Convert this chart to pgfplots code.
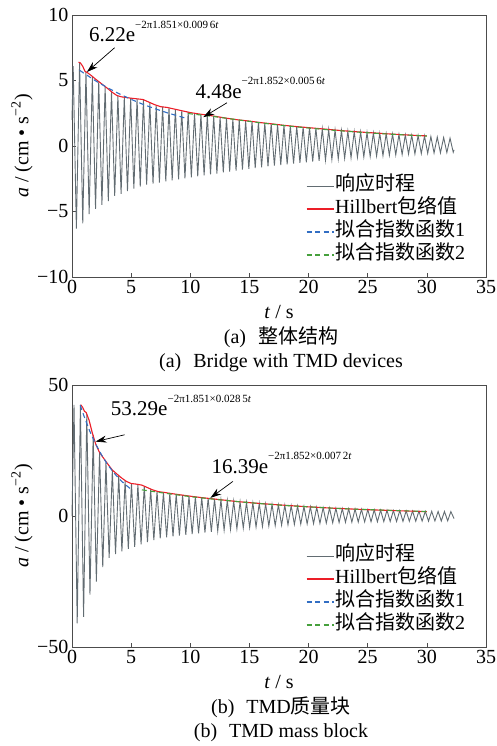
\documentclass[border=0pt]{standalone}
\usepackage{pgfplots}
\pgfplotsset{compat=1.18}
\usepackage{fontspec}
\setmainfont{Liberation Serif}
\newfontfamily\cjk{Noto Sans CJK SC}
\usetikzlibrary{arrows.meta}
\definecolor{resp}{RGB}{98,108,114}
\definecolor{hred}{RGB}{236,30,40}
\definecolor{fblue}{RGB}{50,110,195}
\definecolor{fgreen}{RGB}{70,160,60}
\tikzset{myarrow/.style={-{Stealth[length=11pt,width=7pt]}, line width=0.7pt}}
\pgfplotsset{
  myax/.style={
    scale only axis, width=414pt, height=262pt, anchor=south west,
    xmin=0, xmax=35,
    xtick={0,5,...,35}, xticklabels={0,5,10,15,20,25,30,35},
    tick align=inside, xtick pos=bottom, ytick pos=left,
    major tick length=4pt,
    axis line style={draw=black!70, line width=0.6pt},
    tick style={draw=black!70, line width=0.6pt},
    xlabel={\textit{t} / s},
    ylabel={\textit{a} / (cm • s\textsuperscript{−2})},
    xlabel style={at={(rel axis cs:0.5,0)}, anchor=center, yshift=-35pt},
    ylabel style={at={(rel axis cs:0,0.5)}, anchor=center, yshift=50pt},
    legend cell align=left,
    legend style={draw=none, fill=none, at={(0.565,0.392)}, anchor=north west,
      inner sep=0pt, row sep=0pt,
      nodes={inner sep=1pt, text height=15pt, text depth=6pt}},
    legend image code/.code={\draw[##1] (0pt,0pt) -- (27pt,0pt);},
    clip=false,
  },
}
\newcommand{\expsup}[1]{\raisebox{13.5pt}{\fontsize{11}{12}\selectfont #1}}
\begin{document}
\begin{tikzpicture}[font=\fontsize{20}{24}\selectfont]
\useasboundingbox (0pt,0pt) rectangle (497pt,-746pt);
% ---------- top ----------
\begin{axis}[myax, at={(72pt,-277pt)}, ymin=-10, ymax=10,
  ytick={-10,-5,0,5,10}, yticklabels={−10,−5,0,5,10}]
\addplot[draw=resp, line width=0.9pt] coordinates {
(0.00,2.0) (0.10,6.1) (0.37,-6.3) (0.64,6.35) (0.91,-5.9) (1.18,5.65) (1.45,-5.2) (1.72,5.3)
(1.99,-4.8) (2.26,4.9) (2.53,-4.5) (2.80,4.5) (3.07,-4.2) (3.34,4.15) (3.61,-3.8) (3.88,3.85)
(4.15,-3.65) (4.42,3.7) (4.69,-3.45) (4.96,3.65) (5.23,-3.25) (5.50,3.6) (5.77,-3.1) (6.04,3.5)
(6.31,-2.95) (6.58,3.3) (6.85,-2.88) (7.12,3.1) (7.39,-2.8) (7.66,3.0) (7.93,-2.7) (8.20,2.9)
(8.47,-2.62) (8.74,2.8) (9.01,-2.55) (9.28,2.7) (9.55,-2.47) (9.82,2.6) (10.09,-2.4) (10.36,2.5)
(10.63,-2.32) (10.90,2.42) (11.17,-2.25) (11.44,2.35) (11.71,-2.17) (11.98,2.28) (12.25,-2.1) (12.52,2.2)
(12.79,-2.02) (13.06,2.12) (13.33,-1.95) (13.60,2.05) (13.87,-1.88) (14.14,1.98) (14.41,-1.8) (14.68,1.93)
(14.95,-1.75) (15.22,1.87) (15.49,-1.68) (15.76,1.8) (16.03,-1.62) (16.30,1.75) (16.57,-1.56) (16.84,1.7)
(17.11,-1.5) (17.38,1.63) (17.65,-1.45) (17.92,1.58) (18.19,-1.4) (18.46,1.53) (18.73,-1.34) (19.00,1.48)
(19.27,-1.29) (19.54,1.44) (19.81,-1.24) (20.08,1.4) (20.35,-1.18) (20.62,1.35) (20.89,-1.13) (21.16,1.31)
(21.43,-1.08) (21.70,1.26) (21.97,-1.03) (22.24,1.22) (22.51,-0.98) (22.78,1.18) (23.05,-0.94) (23.32,1.14)
(23.59,-0.9) (23.86,1.1) (24.13,-0.86) (24.40,1.07) (24.67,-0.83) (24.94,1.03) (25.21,-0.8) (25.48,1.0)
(25.75,-0.77) (26.02,0.97) (26.29,-0.74) (26.56,0.94) (26.83,-0.71) (27.10,0.91) (27.37,-0.68) (27.64,0.88)
(27.91,-0.65) (28.18,0.85) (28.45,-0.62) (28.72,0.82) (28.99,-0.6) (29.26,0.8) (29.53,-0.58) (29.80,0.77)
(30.07,-0.56) (30.34,0.72) (30.61,-0.54) (30.88,0.68) (31.15,-0.52) (31.42,0.65) (31.69,-0.5) (31.96,0.6)
(32.23,-0.48) (32.30,-0.3)};
\addlegendentry{{\cjk 响应时程}}
\addplot[draw=hred, line width=1.1pt] coordinates {
(0.55,6.4) (0.7,6.35) (0.9,6.1) (1.1,5.7) (1.3,5.6) (1.6,5.4) (2.0,5.1) (2.5,4.75) (3.0,4.4)
(3.4,4.1) (3.8,3.85) (4.2,3.75) (4.6,3.7) (5.0,3.65) (5.5,3.6) (6.0,3.55) (6.5,3.35) (7.0,3.15)
(7.5,3.0) (8.0,2.95) (8.5,2.85) (9.0,2.75) (9.5,2.65) (10.0,2.55) (10.7,2.45) (11.5,2.35) (12,2.28)
(13,2.13) (14,2.0) (15,1.9) (16,1.78) (17,1.68) (18,1.57) (19,1.48) (20,1.40) (21,1.32) (22,1.24)
(23,1.16) (24,1.09) (25,1.03) (26,0.97) (27,0.91) (28,0.86) (29,0.81) (30,0.77)};
\addlegendentry{Hillbert{\cjk 包络值}}
\addplot[draw=fblue, line width=1.1pt, dash pattern=on 5pt off 3.5pt] coordinates {
(0.65,5.78) (1,5.56) (2,4.97) (3,4.45) (4,3.98) (5,3.56) (6,3.18) (7,2.85) (8,2.55) (9,2.28) (9.6,2.13)};
\addlegendentry{{\cjk 拟合指数函数}1}
\addplot[draw=fgreen, line width=1.1pt, dash pattern=on 5pt off 3.5pt] coordinates {
(9.8,2.48) (12,2.25) (14,2.0) (16,1.76) (18,1.55) (20,1.37) (22,1.21) (24,1.07) (26,0.95) (28,0.85) (30,0.76)};
\addlegendentry{{\cjk 拟合指数函数}2}
\node[anchor=base west, inner sep=0pt, font=\fontsize{21}{24}\selectfont] at (axis cs:1.43,7.94)
  {6.22e\expsup{−2π1.851×0.009\,6\textit{t}}};
\draw[myarrow] (axis cs:3.6,7.5) -- (axis cs:1.26,5.65);
\node[anchor=base west, inner sep=0pt, font=\fontsize{21}{24}\selectfont] at (axis cs:10.43,3.66)
  {4.48e\expsup{−2π1.852×0.005\,6\textit{t}}};
\draw[myarrow] (axis cs:13.1,3.3) -- (axis cs:11.1,2.2);
\end{axis}
\node at (281pt,-337pt) {(a)\hspace{0.6em}{\cjk 整体结构}};
\node at (281pt,-363pt) {(a)\hspace{0.6em}Bridge with TMD devices};
% ---------- bottom ----------
\begin{axis}[myax, at={(72pt,-647pt)}, ymin=-50, ymax=50,
  ytick={-50,0,50}, yticklabels={−50,0,50}]
\addplot[draw=resp, line width=0.9pt] coordinates {
(0.00,0) (0.17,42.4) (0.44,-41) (0.71,42.4) (0.98,-38.5) (1.25,39.0) (1.52,-30) (1.79,31.0)
(2.06,-25) (2.33,24.3) (2.60,-19.5) (2.87,20.5) (3.14,-16) (3.41,17.5) (3.68,-14.5) (3.95,15.3)
(4.22,-13.5) (4.49,13.5) (4.76,-12.5) (5.03,12.4) (5.30,-11.8) (5.57,12.0) (5.84,-10.8) (6.11,11.4)
(6.38,-10) (6.65,10.2) (6.92,-9.2) (7.19,9.4) (7.46,-8.5) (7.73,9.0) (8.00,-8.1) (8.27,8.6)
(8.54,-7.8) (8.81,8.3) (9.08,-7.5) (9.35,8.0) (9.62,-7.2) (9.89,7.6) (10.16,-6.9) (10.43,7.3)
(10.70,-6.6) (10.97,7.0) (11.24,-6.3) (11.51,6.75) (11.78,-6.0) (12.05,6.5) (12.32,-5.7) (12.59,6.2)
(12.86,-5.4) (13.13,5.95) (13.40,-5.1) (13.67,5.7) (13.94,-4.85) (14.21,5.4) (14.48,-4.6) (14.75,5.2)
(15.02,-4.4) (15.29,5.0) (15.56,-4.2) (15.83,4.8) (16.10,-4.0) (16.37,4.6) (16.64,-3.8) (16.91,4.45)
(17.18,-3.65) (17.45,4.25) (17.72,-3.5) (17.99,4.1) (18.26,-3.35) (18.53,3.95) (18.80,-3.2) (19.07,3.8)
(19.34,-3.1) (19.61,3.65) (19.88,-3.0) (20.15,3.5) (20.42,-2.9) (20.69,3.35) (20.96,-2.8) (21.23,3.2)
(21.50,-2.7) (21.77,3.05) (22.04,-2.6) (22.31,2.95) (22.58,-2.5) (22.85,2.85) (23.12,-2.4) (23.39,2.75)
(23.66,-2.35) (23.93,2.65) (24.20,-2.3) (24.47,2.55) (24.74,-2.25) (25.01,2.45) (25.28,-2.2) (25.55,2.35)
(25.82,-2.2) (26.09,2.25) (26.36,-2.15) (26.63,2.2) (26.90,-2.1) (27.17,2.1) (27.44,-2.1) (27.71,2.05)
(27.98,-2.05) (28.25,1.95) (28.52,-2.0) (28.79,1.9) (29.06,-2.0) (29.33,1.85) (29.60,-1.95) (29.87,1.8)
(30.14,-1.95) (30.41,1.8) (30.68,-1.9) (30.95,1.75) (31.22,-1.9) (31.49,1.75) (31.76,-1.85) (32.03,1.7)
(32.30,-1.0)};
\addlegendentry{{\cjk 响应时程}}
\addplot[draw=hred, line width=1.1pt] coordinates {
(0.73,42.5) (0.9,41.5) (1.05,40.0) (1.2,39.5) (1.45,36.5) (1.7,32) (2.0,27.5) (2.3,24.5) (2.6,22.5)
(3.0,20) (3.4,17.6) (3.8,16.0) (4.2,14.5) (4.6,13.2) (5.0,12.4) (5.4,12.2) (5.9,11.8) (6.3,11.0)
(6.8,10.0) (7.3,9.3) (7.8,9.0) (8.5,8.5) (9.3,8.0) (10.1,7.5) (11,7.0) (12,6.5) (13,6.0) (14,5.5)
(15,5.1) (16,4.75) (17,4.4) (18,4.1) (19,3.8) (20,3.5) (21,3.25) (22,3.0) (23,2.8) (24,2.6) (25,2.4)
(26,2.25) (27,2.1) (28,1.95) (29,1.8) (30,1.65)};
\addlegendentry{Hillbert{\cjk 包络值}}
\addplot[draw=fblue, line width=1.1pt, dash pattern=on 5pt off 3.5pt] coordinates {
(0.7,42.3) (1.0,38.3) (1.5,32.4) (2.0,27.5) (2.5,23.3) (3.0,19.7) (3.5,16.7) (4.0,14.1) (4.5,12.0) (5.0,10.2)};
\addlegendentry{{\cjk 拟合指数函数}1}
\addplot[draw=fgreen, line width=1.1pt, dash pattern=on 5pt off 3.5pt] coordinates {
(5.9,10.0) (8,8.6) (10,7.4) (12,6.4) (14,5.5) (16,4.7) (18,4.0) (20,3.5) (22,3.0) (24,2.6) (26,2.3) (28,2.0) (30,1.7)};
\addlegendentry{{\cjk 拟合指数函数}2}
\node[anchor=base west, inner sep=0pt, font=\fontsize{21}{24}\selectfont] at (axis cs:3.28,38.2)
  {53.29e\expsup{−2π1.851×0.028\,5\textit{t}}};
\draw[myarrow] (axis cs:4.45,31.0) -- (axis cs:1.99,28.4);
\node[anchor=base west, inner sep=0pt, font=\fontsize{21}{24}\selectfont] at (axis cs:11.78,16.4)
  {16.39e\expsup{−2π1.852×0.007\,2\textit{t}}};
\draw[myarrow] (axis cs:13.6,13.2) -- (axis cs:11.7,6.9);
\end{axis}
\node at (281pt,-707pt) {(b)\hspace{0.6em}TMD{\cjk 质量块}};
\node at (281pt,-733pt) {(b)\hspace{0.6em}TMD mass block};
\end{tikzpicture}
\end{document}
